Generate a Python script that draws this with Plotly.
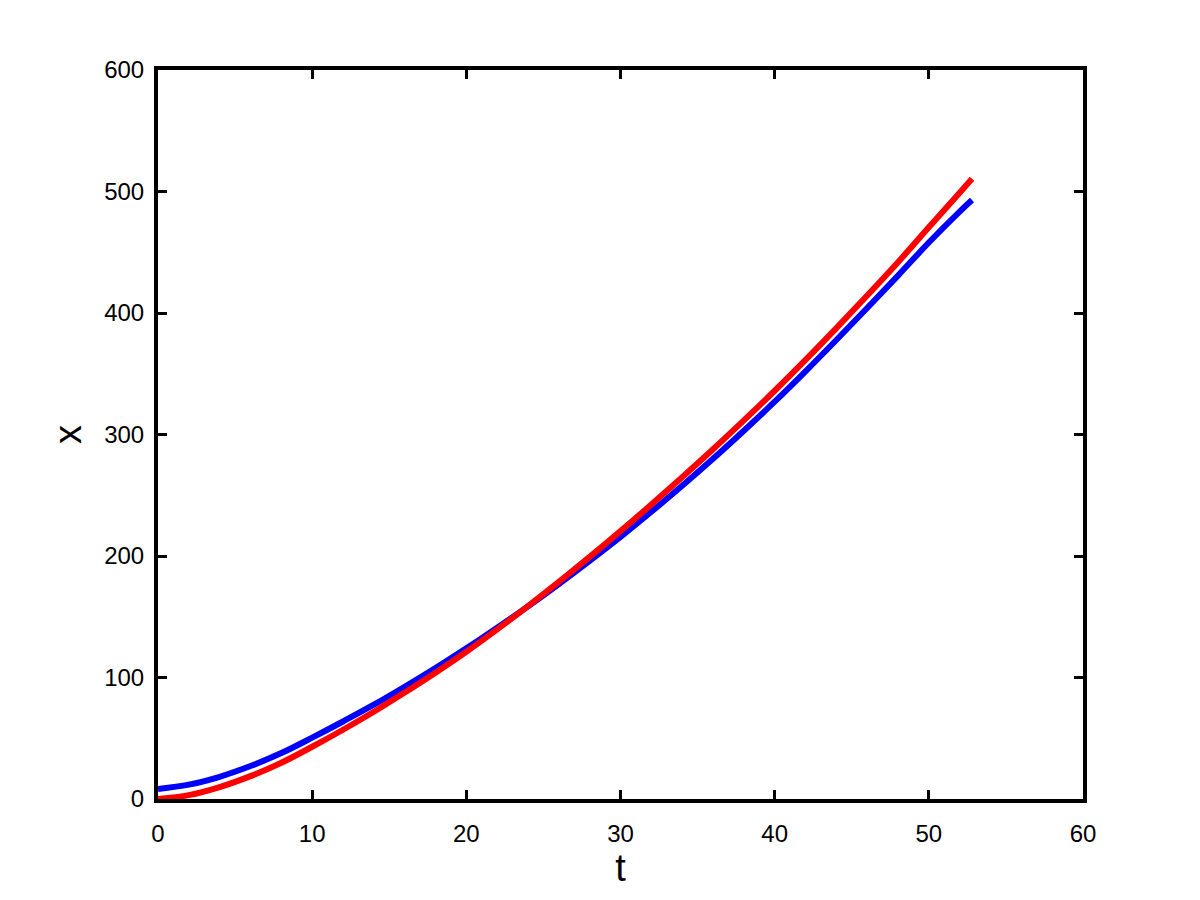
import plotly.graph_objects as go

# time samples
t = [0, 2, 4, 6, 8, 10, 12, 14, 16, 18, 20, 22, 24, 26, 28, 30, 32, 34, 36,
     38, 40, 42, 44, 46, 48, 50, 52, 52.8]

x_blue = [8.3, 11.8, 18.3, 27.1, 37.8, 50.5, 63.8, 77.6, 92.4, 107.8, 124.0,
          141.0, 158.5, 176.9, 196.0, 215.7, 236.4, 257.8, 280.0, 303.1, 327.0,
          352.0, 377.8, 404.1, 430.8, 458.0, 483.5, 493.0]

x_red = [0.0, 3.2, 9.8, 18.8, 29.8, 43.0, 57.0, 71.8, 87.6, 104.0, 121.2,
         139.6, 158.8, 178.7, 199.3, 220.5, 242.4, 264.8, 287.8, 311.6, 336.0,
         361.4, 387.6, 414.4, 441.8, 470.5, 499.0, 510.5]

x_ticks = [0, 10, 20, 30, 40, 50, 60]
y_ticks = [0, 100, 200, 300, 400, 500, 600]

FONT = "Liberation Sans, Arial, Helvetica, sans-serif"

fig = go.Figure()
fig.add_trace(go.Scatter(x=t, y=x_blue, mode="lines", line=dict(color="#0000FF", width=6, shape="spline"),
                         showlegend=False))
fig.add_trace(go.Scatter(x=t, y=x_red, mode="lines", line=dict(color="#FF0000", width=6, shape="spline"),
                         showlegend=False))

axis_style = dict(
    showgrid=False,
    zeroline=False,
    showline=True,
    linecolor="black",
    linewidth=4,
    mirror="ticks",
    ticks="inside",
    ticklen=9,
    tickwidth=3,
    tickcolor="black",
    tickfont=dict(family=FONT, size=24, color="black"),
)

fig.update_xaxes(range=[0, 60], tickvals=x_ticks, ticklabelstandoff=10,
                 title=dict(text="t", font=dict(family=FONT, size=38, color="black"), standoff=8),
                 **axis_style)
fig.update_yaxes(range=[0, 600], tickvals=y_ticks, ticklabelstandoff=5,
                 title=dict(text="x", font=dict(family=FONT, size=38, color="black"), standoff=12),
                 **axis_style)

fig.update_layout(
    width=1200,
    height=900,
    plot_bgcolor="white",
    paper_bgcolor="white",
    margin=dict(l=150, r=125, t=62, b=109),
    font=dict(family=FONT, color="black"),
)

fig.write_html("out.html")
